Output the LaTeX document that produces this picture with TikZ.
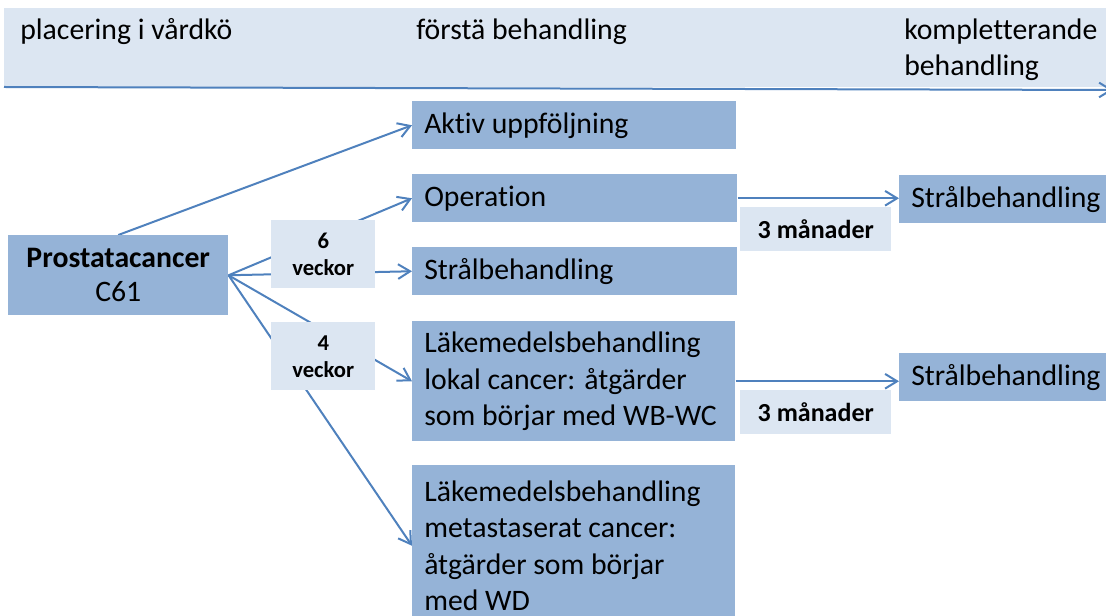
\documentclass[tikz,border=0pt]{standalone}
\usepackage{fontspec}
\setmainfont{Carlito}[Ligatures=NoCommon]
\usetikzlibrary{arrows.meta}
\pgfdeclarelayer{bg}
\pgfsetlayers{bg,main}
\definecolor{boxblue}{HTML}{95B3D7}
\definecolor{lightblue}{HTML}{DCE6F2}
\definecolor{lineblue}{HTML}{4F81BD}
\begin{document}
\begin{tikzpicture}[x=0.75pt,y=-0.75pt,
  conn/.style={draw=lineblue, line width=1.5pt, -{Straight Barb[length=9pt,width=11pt,line width=1.5pt]}},
  hdr/.style={inner sep=0pt, font=\fontsize{22.3}{27}\selectfont},
  mainbox/.style={fill=boxblue, inner xsep=9pt, inner ysep=0pt, align=flush left, anchor=north west,
    font=\fontsize{22.3}{27.4}\selectfont},
  lblbox/.style={fill=lightblue, inner sep=0pt, align=center, anchor=north west}]
\useasboundingbox (0,0) rectangle (1106,616);
\clip (0,0) rectangle (1106,616);
% header band
\fill[lightblue] (4,8) rectangle (1110,87);
\node[hdr, anchor=base west] (h1) at (20,40) {placering i vårdkö};
\node[hdr, anchor=base west] (h2) at (416,40) {förstä behandling};
\node[hdr, anchor=north west, align=left] (h3) at (904,19) {kompletterande\\behandling};
\coordinate (hl) at (4,87);
\coordinate (hr) at (1113,90);
\draw[conn] (hl) -- (hr);
% source
\node[fill=boxblue, anchor=north west, minimum width=165pt, minimum height=60pt, inner sep=0pt, align=center,
  font=\fontsize{22.3}{25.5}\selectfont] (pc) at (8,235) {\textbf{Prostatacancer}\\C61};
% first treatment boxes
\node[mainbox, text width=225pt, minimum height=36pt] (akt) at (412,101) {Aktiv uppföljning};
\node[mainbox, text width=225.75pt, minimum height=36pt] (op) at (412,174) {Operation};
\node[mainbox, text width=225.75pt, minimum height=36pt] (str) at (412,247) {Strålbehandling};
\node[mainbox, text width=224.25pt, minimum height=90pt] (lok) at (412,321)
  {Läkemedelsbehandling\\lokal cancer: åtgärder\\som börjar med \mbox{WB-WC}};
\node[mainbox, text width=224.25pt, minimum height=120.75pt] (met) at (412,465)
  {Läkemedelsbehandling\\metastaserat cancer:\\åtgärder som börjar\\med WD};
% complementary treatment
\node[mainbox, text width=147.75pt, minimum height=36pt] (r1) at (899,175) {Strålbehandling};
\node[mainbox, text width=147.75pt, minimum height=36pt] (r2) at (899,353) {Strålbehandling};
% labels
\node[lblbox, minimum width=78pt, minimum height=51pt, font=\fontsize{17}{20.25}\selectfont\bfseries] (w6) at (271,220) {6\\veckor};
\node[lblbox, minimum width=78pt, minimum height=51pt, font=\fontsize{17}{20.25}\selectfont\bfseries] (w4) at (271,322) {4\\veckor};
\node[lblbox, minimum width=113.25pt, minimum height=33pt, font=\fontsize{19.5}{23}\selectfont\bfseries] (m1) at (740,207) {3 månader};
\node[lblbox, minimum width=113.25pt, minimum height=33pt, font=\fontsize{19.5}{23}\selectfont\bfseries] (m2) at (740,390) {3 månader};
% connectors
\begin{pgfonlayer}{bg}
\draw[conn] (pc.north) -- (akt.west);
\draw[conn] (pc.east) -- (op.west);
\draw[conn] (pc.east) -- (str.west);
\draw[conn] (pc.east) -- (lok.west);
\draw[conn] (pc.east) -- (met.west);
\draw[conn] (op.east) -- (op.east -| r1.west);
\draw[conn] (lok.east) -- (lok.east -| r2.west);
\end{pgfonlayer}
\end{tikzpicture}
\end{document}
